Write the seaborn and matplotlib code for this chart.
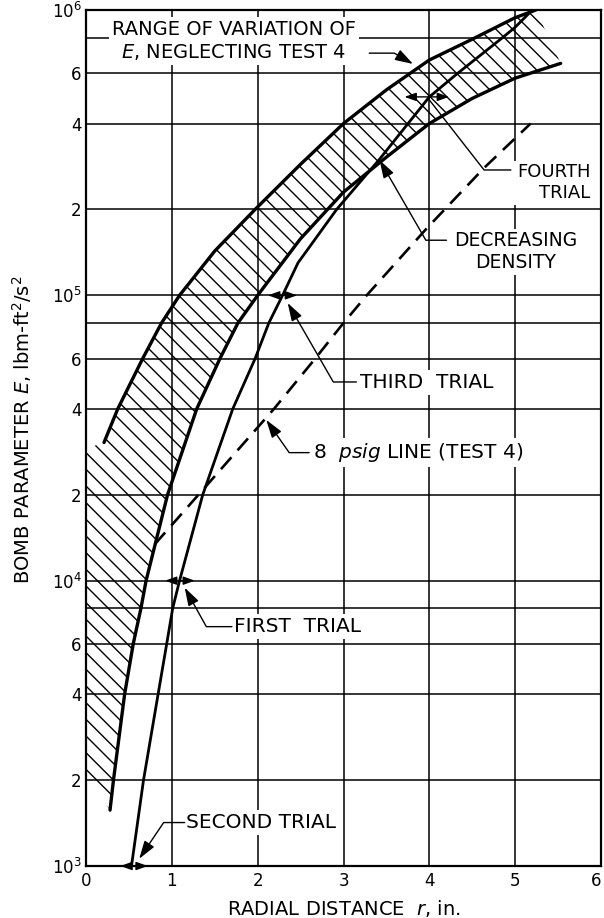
import numpy as np
import pandas as pd
import matplotlib.pyplot as plt
import seaborn as sns
from matplotlib.ticker import NullLocator

# Hatched band: range of variation of E, neglecting test 4
upper_r = [0.21, 0.37, 0.66, 0.88, 1.09, 1.50, 1.97, 2.50, 3.00, 3.50, 4.00, 4.50, 5.00, 5.24]
upper_E = [3.05e4, 4.0e4, 6.0e4, 8.0e4, 1.0e5, 1.43e5, 2.0e5, 2.88e5, 4.0e5, 5.25e5, 6.68e5, 7.9e5, 9.4e5, 1.0e6]
lower_r = [0.28, 0.32, 0.45, 0.55, 0.64, 0.70, 0.95, 1.29, 1.56, 1.77, 2.00, 2.50, 3.00, 3.50, 4.00, 4.50, 5.00, 5.53]
lower_E = [1.57e3, 2.0e3, 4.0e3, 6.0e3, 8.0e3, 1.0e4, 2.0e4, 4.0e4, 6.0e4, 8.0e4, 1.0e5, 1.58e5, 2.3e5, 3.05e5, 4.0e5, 4.9e5, 5.77e5, 6.5e5]
# hatch reaches the left axis between these two values
edge_E = [2.9e4, 2.05e3]

# converging trial curve
trial_r = [0.53, 0.67, 0.84, 0.94, 1.01, 1.09, 1.36, 1.71, 1.97, 2.13, 2.29, 2.47, 2.92, 3.42, 4.00, 4.33, 4.83, 5.00, 5.20]
trial_E = [1e3, 2e3, 4e3, 6e3, 8e3, 1e4, 2e4, 4e4, 6e4, 8e4, 1e5, 1.3e5, 2e5, 3.0e5, 4.96e5, 6e5, 7.9e5, 8.7e5, 1e6]

# 8 psig line (test 4)
psig_r = [0.80, 1.31, 2.19, 2.67, 3.00, 3.27, 3.98, 4.64, 5.18]
psig_E = [1.34e4, 2.0e4, 4.0e4, 6.0e4, 8.0e4, 1.0e5, 1.73e5, 2.8e5, 4.0e5]

# horizontal double arrows of each trial
step_E = [1e3, 1e4, 1e5, 4.96e5]
step_lo = [0.40, 0.92, 2.12, 3.71]
step_hi = [0.72, 1.27, 2.46, 4.23]

x_ticks = [0, 1, 2, 3, 4, 5, 6]
y_ticks = [1e3, 2e3, 4e3, 6e3, 8e3, 1e4, 2e4, 4e4, 6e4, 8e4, 1e5, 2e5, 4e5, 6e5, 8e5, 1e6]
y_labels = [r'$10^3$', '2', '4', '6', '', r'$10^4$', '2', '4', '6', '',
            r'$10^5$', '2', '4', '6', '', r'$10^6$']

sns.set_theme(style="white")
plt.rcParams['font.family'] = ['DejaVu Sans']
plt.rcParams['hatch.linewidth'] = 1.0

fig = plt.figure(figsize=(6.04, 9.18), dpi=100)
ax = fig.add_axes([86 / 604, 52 / 918, 515 / 604, 856 / 918])
ax.set_yscale('log')

# hatched band as one polygon
poly_r = [0.0] + upper_r + lower_r[::-1] + [0.0]
poly_E = [edge_E[0]] + upper_E + lower_E[::-1] + [edge_E[1]]
ax.fill(poly_r, poly_E, facecolor='none', edgecolor='black', hatch='\\\\', linewidth=0)

sns.lineplot(x=upper_r, y=upper_E, ax=ax, color='black', lw=2.4, estimator=None, sort=False)
sns.lineplot(x=lower_r, y=lower_E, ax=ax, color='black', lw=2.4, estimator=None, sort=False)
sns.lineplot(x=trial_r, y=trial_E, ax=ax, color='black', lw=2.0, estimator=None, sort=False)
sns.lineplot(x=psig_r, y=psig_E, ax=ax, color='black', lw=1.9,
             linestyle=(0, (6.0, 3.5)), estimator=None, sort=False)

for E, lo, hi in zip(step_E, step_lo, step_hi):
    ax.annotate('', xy=(hi, E), xytext=(lo, E), annotation_clip=False,
                arrowprops=dict(arrowstyle='<|-|>,head_length=0.7,head_width=0.25',
                                color='black', lw=1.0, shrinkA=0, shrinkB=0, mutation_scale=10))

ax.set_xlim(0, 6)
ax.set_ylim(1e3, 1e6)
ax.set_xticks(x_ticks)
ax.set_xticklabels([str(t) for t in x_ticks])
ax.set_yticks(y_ticks)
ax.set_yticklabels(y_labels)
ax.yaxis.set_minor_locator(NullLocator())
ax.tick_params(axis='both', length=0, labelsize=12, colors='black')
ax.tick_params(axis='y', pad=3)
ax.tick_params(axis='x', pad=4)
ax.get_xticklabels()[-1].set_horizontalalignment('right')
ax.set_axisbelow(True)
ax.grid(True, color='black', lw=1.1)
for sp in ax.spines.values():
    sp.set_color('black')
    sp.set_linewidth(1.6)

ax.set_xlabel(r'RADIAL DISTANCE  $\mathit{r}$, in.', fontsize=14, color='black')
ax.set_ylabel(r'BOMB PARAMETER $\mathit{E}$, lbm-ft$^2$/s$^2$', fontsize=14, color='black')
ax.xaxis.set_label_coords(0.5, -0.037)
ax.yaxis.set_label_coords(-0.1, 0.51)

box = dict(boxstyle='square,pad=0.15', fc='white', ec='none')


def label(x, y, s, size=14, **kw):
    ax.text(x, y, s, fontsize=size, color='black', bbox=box, va='center', linespacing=1.2, **kw)


def leader(start, tip, angle, head=True):
    style = '-|>,head_length=1.1,head_width=0.35' if head else '-'
    ax.annotate('', xy=tip, xytext=start, annotation_clip=False,
                arrowprops=dict(arrowstyle=style, color='black', lw=1.0,
                                connectionstyle=f'angle,angleA=0,angleB={angle},rad=0',
                                shrinkA=0, shrinkB=0, mutation_scale=10))


label(1.72, 7.78e5, 'RANGE OF VARIATION OF\n$\\mathit{E}$, NEGLECTING TEST 4',
      size=14, ha='center', multialignment='center')
leader((3.30, 7.06e5), (3.81, 6.47e5), 150)

label(5.88, 2.48e5, 'FOURTH\nTRIAL', size=13, ha='right', multialignment='right')
leader((4.95, 2.75e5), (4.0, 4.84e5), 128, head=False)

label(5.01, 1.42e5, 'DECREASING\nDENSITY', size=13.5, ha='center', multialignment='center')
leader((4.20, 1.56e5), (3.42, 2.98e5), 120)

label(3.19, 4.93e4, 'THIRD  TRIAL', size=14.5, ha='left')
leader((3.15, 4.97e4), (2.35, 9.4e4), 120)

label(2.64, 2.82e4, '8  $\\mathit{psig}$ LINE (TEST 4)', size=14.5, ha='left')
leader((2.60, 2.81e4), (2.10, 3.66e4), 125)

label(1.73, 6.9e3, 'FIRST  TRIAL', size=14.5, ha='left')
leader((1.70, 6.9e3), (1.15, 9.45e3), 119)

label(1.17, 1.42e3, 'SECOND TRIAL', size=14.5, ha='left')
leader((1.15, 1.42e3), (0.62, 1.06e3), 56)

fig.savefig('out.png', dpi=100)
